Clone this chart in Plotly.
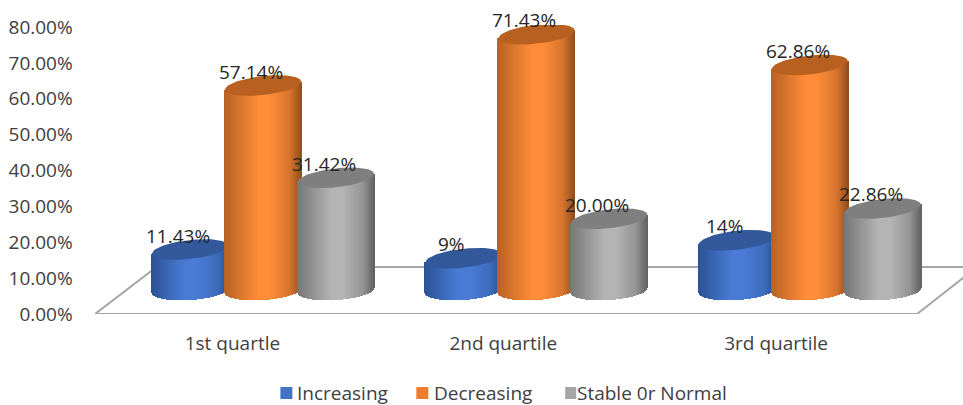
import numpy as np
import plotly.graph_objects as go

categories = ["1st quartle", "2nd quartile", "3rd quartile"]
series_names = ["Increasing", "Decreasing", "Stable 0r Normal"]
increasing = [11.43, 9, 14]
decreasing = [57.14, 71.43, 62.86]
stable = [31.42, 20.00, 22.86]
increasing_labels = ["11.43%", "9%", "14%"]
decreasing_labels = ["57.14%", "71.43%", "62.86%"]
stable_labels = ["31.42%", "20.00%", "22.86%"]
y_ticks = [0, 10, 20, 30, 40, 50, 60, 70, 80]

# Plot frame, in pixels of the page
PLOT_L, PLOT_R, PLOT_T, PLOT_B = 94.5, 963, 25, 314
PX_PER_PCT = 3.5875
PX_PER_CAT = 273.5
CAT0_PX = 262.7
FONT = "Open Sans"
FONT_SIZE = 19

# Cylinder geometry, in axis units
RADIUS = 38 / PX_PER_CAT
CAP_B = 9.5 / PX_PER_PCT
CAP_TILT = 4 / PX_PER_PCT
LIFT = 6.55
SERIES_STEP = 73 / PX_PER_CAT
STRIP_W = 1.15 / PX_PER_CAT

STYLES = [
    dict(edge_l=(44, 82, 150), mid=(74, 124, 214), edge_r=(44, 82, 150), cap="#33589b", key="#4472c4"),
    dict(edge_l=(184, 98, 36), mid=(255, 140, 56), edge_r=(150, 80, 30), cap="#b8601f", key="#ed7d31"),
    dict(edge_l=(118, 118, 118), mid=(180, 180, 180), edge_r=(100, 100, 100), cap="#7f7f7f", key="#a5a5a5"),
]


def shade(style, u):
    """Horizontal cylinder shading for u in [-1, 1]."""
    stops = [-1, -0.1, 0.2, 0.72, 1]
    rgb = []
    for i in range(3):
        lo, mid, hi = style["edge_l"][i], style["mid"][i], style["edge_r"][i]
        rgb.append(np.interp(u, stops, [lo, mid, mid, 0.4 * hi + 0.6 * mid, hi]))
    return [f"rgb({r:.0f},{g:.0f},{b:.0f})" for r, g, b in zip(*rgb)]


fig = go.Figure()

# Floor of the 3-D box
front_l = (94.5 - CAT0_PX) / PX_PER_CAT
front_r = (917 - CAT0_PX) / PX_PER_CAT
back_l = (156 - CAT0_PX) / PX_PER_CAT
back_r = (977 - CAT0_PX) / PX_PER_CAT
back_y = (PLOT_B - 267) / PX_PER_PCT
fig.add_trace(go.Scatter(
    x=[back_r, back_l, front_l, front_r, back_r],
    y=[back_y, back_y, 0, 0, back_y],
    mode="lines", line=dict(color="#a6a6a6", width=2),
    hoverinfo="skip", showlegend=False, zorder=0,
))

u = np.linspace(-1, 1, 77)
t = np.linspace(0, 2 * np.pi, 90)
all_values = [increasing, decreasing, stable]
all_labels = [increasing_labels, decreasing_labels, stable_labels]

for s, (values, labels, style) in enumerate(zip(all_values, all_labels, STYLES)):
    centre = s - 1
    for c, (value, label) in enumerate(zip(values, labels)):
        xc = c + centre * SERIES_STEP
        bottom = LIFT + CAP_TILT * u * 0.6 - CAP_B * np.sqrt(1 - u ** 2)
        top = LIFT + value + CAP_TILT * u
        fig.add_trace(go.Bar(
            x=xc + u * RADIUS, y=top - bottom, base=bottom,
            width=STRIP_W, marker=dict(color=shade(style, u), line=dict(width=0)),
            hoverinfo="skip", showlegend=False, zorder=2 * s + 1,
        ))
        fig.add_trace(go.Scatter(
            x=xc + RADIUS * np.cos(t),
            y=LIFT + value + CAP_B * np.sin(t) + CAP_TILT * np.cos(t),
            mode="lines", fill="toself", fillcolor=style["cap"],
            line=dict(width=0), hoverinfo="skip", showlegend=False,
            zorder=2 * s + 2,
        ))
        fig.add_annotation(
            x=xc, y=LIFT + value, text=label, showarrow=False,
            xshift=-12, yshift=14, font=dict(family=FONT, size=FONT_SIZE, color="#262626"),
        )

# Key under the plot: a square and a caption for each series
plot_w = PLOT_R - PLOT_L
plot_h = PLOT_B - PLOT_T
key_swatch_px = [(280, 292), (416, 428), (565, 576)]
key_text_px = [295, 432, 575]
KEY_Y_PX = 393
for name, style, (x0, x1), tx in zip(series_names, STYLES, key_swatch_px, key_text_px):
    fig.add_shape(
        type="rect", xref="paper", yref="paper",
        x0=(x0 - PLOT_L) / plot_w, x1=(x1 - PLOT_L) / plot_w,
        y0=(PLOT_B - (KEY_Y_PX + 6)) / plot_h, y1=(PLOT_B - (KEY_Y_PX - 6)) / plot_h,
        fillcolor=style["key"], line=dict(width=0),
    )
    fig.add_annotation(
        xref="paper", yref="paper", xanchor="left", yanchor="middle",
        x=(tx - PLOT_L) / plot_w, y=(PLOT_B - KEY_Y_PX) / plot_h,
        text=name, showarrow=False, font=dict(family=FONT, size=FONT_SIZE, color="#404040"),
    )

x_range = [(PLOT_L - CAT0_PX) / PX_PER_CAT, (PLOT_R - CAT0_PX) / PX_PER_CAT]
y_range = [0, plot_h / PX_PER_PCT]
category_label_px = [232, 503, 776]

fig.update_layout(
    width=963, height=405,
    margin=dict(l=PLOT_L, r=0, t=PLOT_T, b=405 - PLOT_B, pad=0, autoexpand=False),
    paper_bgcolor="white", plot_bgcolor="white",
    barmode="overlay", bargap=0,
    font=dict(family=FONT, color="#404040"),
    showlegend=False,
    xaxis=dict(
        range=x_range, showgrid=False, zeroline=False, showline=False,
        tickmode="array", tickvals=[(p - CAT0_PX) / PX_PER_CAT for p in category_label_px],
        ticktext=categories,
        ticks="outside", ticklen=12, tickcolor="rgba(0,0,0,0)",
        tickfont=dict(family=FONT, size=FONT_SIZE, color="#404040"),
    ),
    yaxis=dict(
        range=y_range, showgrid=False, zeroline=False, showline=True,
        linecolor="#a6a6a6", linewidth=2,
        tickmode="array", tickvals=y_ticks, ticktext=[f"{v:.2f}%" for v in y_ticks],
        ticks="outside", ticklen=16.5, tickcolor="rgba(0,0,0,0)",
        tickfont=dict(family=FONT, size=FONT_SIZE, color="#404040"),
    ),
)

fig.write_html("out.html", config=dict(displayModeBar=False))
